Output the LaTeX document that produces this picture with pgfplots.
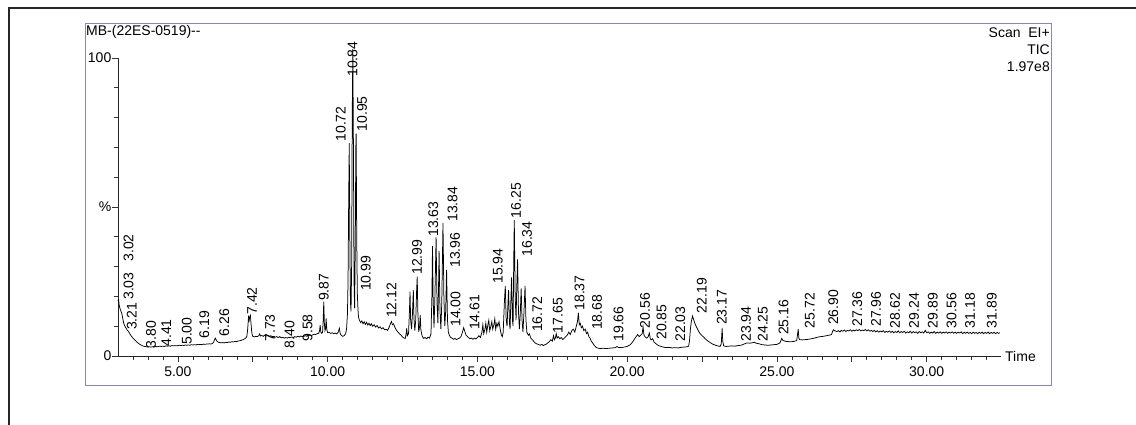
\documentclass[border=0pt]{standalone}
\usepackage{fontspec}
\setmainfont{Liberation Sans}
\usepackage{pgfplots}
\pgfplotsset{compat=1.18}
\definecolor{boxblue}{RGB}{135,135,170}
\begin{document}
\fontsize{14}{17}\selectfont
\begin{tikzpicture}[lbl/.style={rotate=90, anchor=west, inner sep=0pt}]
\useasboundingbox (0pt,0pt) rectangle (1136pt,425pt);
\fill[white] (0pt,0pt) rectangle (1136pt,425pt);
\draw[line width=1.2pt, black!85] (9pt,-5pt) -- (9pt,417pt) -- (1140pt,417pt);
\draw[boxblue, line width=1pt] (85pt,39pt) rectangle (1051pt,401pt);
\node[anchor=west, inner sep=0pt] at (86pt,393pt) {MB-(22ES-0519)-{}-};
\node[anchor=east, inner sep=0pt] at (1050pt,392pt) {Scan\ \ EI+};
\node[anchor=east, inner sep=0pt] at (1050pt,375pt) {TIC};
\node[anchor=east, inner sep=0pt] at (1050pt,358pt) {1.97e8};
\node[anchor=west, inner sep=0pt] at (1005pt,68.5pt) {Time};
\begin{axis}[
  at={(118pt,69pt)}, anchor=south west,
  scale only axis, width=882.7pt, height=298pt,
  xmin=3.0, xmax=32.47, ymin=0, ymax=100,
  axis x line=bottom, axis y line=left,
  axis line style={-, line width=0.8pt, black!85},
  clip=false,
  xtick={5,10,15,20,25,30},
  xticklabels={5.00,10.00,15.00,20.00,25.00,30.00},
  extra x ticks={7.5,12.5,17.5,22.5,27.5},
  extra x tick labels={},
  minor xtick={3.5,4,...,32},
  ytick={0,50,100}, yticklabels={0,\%,100},
  minor ytick={10,20,30,40,60,70,80,90},
  tick align=outside,
  major tick length=6pt, minor tick length=4.5pt,
  every tick/.style={black!80, line width=0.7pt},
  yticklabel style={inner xsep=0.5pt},
]
\addplot[black, line width=0.75pt] table {
3.00 18.5
3.02 19.0
3.04 17.0
3.06 16.2
3.08 15.5
3.10 15.0
3.13 14.2
3.16 12.5
3.19 11.0
3.22 10.2
3.26 9.5
3.30 8.8
3.35 8.2
3.40 7.4
3.45 6.6
3.50 6.0
3.55 5.5
3.60 5.0
3.65 4.5
3.70 4.1
3.75 3.8
3.80 3.5
3.85 3.3
3.90 3.2
3.95 3.1
4.00 3.0
4.05 3.1
4.10 3.0
4.15 3.1
4.20 3.0
4.25 3.2
4.30 3.1
4.35 3.2
4.40 3.3
4.45 3.2
4.50 3.3
4.55 3.2
4.60 3.4
4.65 3.3
4.70 3.4
4.75 3.3
4.80 3.5
4.85 3.4
4.90 3.5
4.95 3.4
5.00 3.5
5.05 3.6
5.10 3.5
5.15 3.6
5.20 3.5
5.25 3.7
5.30 3.6
5.35 3.7
5.40 3.6
5.45 3.8
5.50 3.7
5.55 3.8
5.60 3.7
5.65 3.9
5.70 3.8
5.75 3.9
5.80 3.8
5.85 4.0
5.90 3.9
5.95 4.0
6.00 4.0
6.05 4.1
6.10 4.0
6.15 4.2
6.19 4.6
6.22 5.4
6.25 6.0
6.27 5.6
6.30 5.0
6.35 4.6
6.40 4.5
6.45 4.4
6.50 4.5
6.55 4.4
6.60 4.6
6.65 4.5
6.70 4.7
6.75 4.6
6.80 4.8
6.85 4.7
6.90 4.9
6.95 4.8
7.00 5.0
7.05 5.1
7.10 5.2
7.15 5.4
7.20 5.6
7.25 5.9
7.30 6.5
7.33 9.0
7.36 13.5
7.38 12.0
7.40 13.0
7.42 13.6
7.44 11.0
7.46 8.5
7.48 7.2
7.50 6.6
7.55 6.4
7.60 6.6
7.65 6.5
7.70 6.8
7.73 7.4
7.76 6.7
7.80 6.9
7.85 6.6
7.90 7.0
7.95 6.7
8.00 6.9
8.05 6.6
8.10 6.8
8.15 6.5
8.20 6.6
8.25 6.3
8.30 6.5
8.35 6.2
8.40 6.5
8.45 6.1
8.50 6.3
8.55 6.0
8.60 6.2
8.65 6.0
8.70 6.3
8.75 6.1
8.80 6.4
8.85 6.2
8.90 6.5
8.95 6.3
9.00 6.6
9.05 6.4
9.10 6.7
9.15 6.5
9.20 6.6
9.25 6.8
9.30 6.6
9.35 6.9
9.40 7.0
9.45 6.8
9.50 7.1
9.55 7.3
9.60 7.2
9.65 7.5
9.70 7.6
9.73 8.5
9.75 10.4
9.77 8.0
9.80 7.6
9.83 8.0
9.85 12.0
9.87 18.2
9.89 11.0
9.91 8.5
9.93 9.0
9.95 12.6
9.97 9.0
10.00 7.8
10.05 7.9
10.10 7.6
10.15 7.8
10.20 7.5
10.25 7.7
10.30 7.4
10.35 8.0
10.39 9.3
10.42 7.5
10.45 7.0
10.50 6.6
10.55 6.8
10.60 7.5
10.63 9.0
10.66 14.0
10.68 25.0
10.70 50.0
10.72 71.4
10.74 40.0
10.76 18.0
10.78 15.0
10.80 30.0
10.82 80.0
10.84 103.0
10.86 70.0
10.88 25.0
10.90 16.0
10.92 35.0
10.94 70.0
10.95 74.6
10.97 40.0
10.99 21.0
11.01 16.0
11.03 13.0
11.06 12.0
11.10 11.2
11.14 11.8
11.18 10.8
11.22 11.5
11.26 10.6
11.30 11.3
11.34 10.4
11.38 11.0
11.42 10.2
11.46 10.8
11.50 10.0
11.55 10.5
11.60 9.7
11.65 10.2
11.70 9.4
11.75 9.8
11.80 9.1
11.85 9.5
11.90 8.8
11.95 9.0
12.00 8.6
12.05 9.6
12.10 11.0
12.13 11.6
12.16 10.5
12.20 10.8
12.25 9.5
12.30 8.6
12.35 8.0
12.40 7.4
12.45 7.0
12.50 6.4
12.55 6.0
12.59 5.9
12.62 7.5
12.64 9.3
12.66 6.8
12.70 7.5
12.73 15.0
12.75 21.6
12.77 12.0
12.80 9.0
12.83 14.0
12.86 22.1
12.88 13.0
12.91 8.5
12.94 12.0
12.97 22.0
12.99 26.6
13.01 15.0
13.04 8.0
13.07 10.0
13.09 13.8
13.11 9.0
13.15 6.8
13.20 5.9
13.25 6.2
13.30 5.8
13.35 6.3
13.40 6.0
13.45 7.5
13.48 20.0
13.50 36.9
13.52 20.0
13.55 9.5
13.58 20.0
13.62 39.8
13.65 18.0
13.68 11.0
13.70 22.0
13.72 35.3
13.75 15.0
13.78 9.0
13.81 18.0
13.85 44.7
13.88 20.0
13.91 10.0
13.94 15.0
13.97 28.9
14.00 12.0
14.03 8.0
14.06 7.0
14.10 6.3
14.15 6.0
14.20 5.6
14.25 5.9
14.30 5.5
14.35 5.8
14.40 6.0
14.45 6.5
14.50 8.0
14.54 9.5
14.58 8.2
14.62 7.0
14.66 6.6
14.70 6.2
14.75 5.8
14.80 6.0
14.85 5.6
14.90 6.0
14.95 5.7
15.00 6.2
15.05 6.8
15.10 6.2
15.15 8.0
15.18 10.5
15.21 7.5
15.25 9.0
15.28 11.0
15.31 8.0
15.35 10.5
15.38 12.0
15.41 8.5
15.45 10.0
15.48 11.5
15.51 9.0
15.55 10.5
15.58 12.5
15.61 9.0
15.65 11.0
15.68 10.0
15.72 11.5
15.76 9.0
15.80 7.0
15.83 6.5
15.86 8.0
15.90 18.0
15.93 23.5
15.96 12.0
15.99 10.0
16.02 18.0
16.04 22.1
16.07 11.0
16.09 9.0
16.12 20.0
16.14 26.4
16.17 12.0
16.19 10.0
16.21 30.0
16.23 45.6
16.26 20.0
16.29 12.0
16.31 22.0
16.34 32.4
16.37 15.0
16.40 9.0
16.43 14.0
16.46 22.7
16.49 12.0
16.52 8.0
16.55 14.0
16.59 23.5
16.62 12.0
16.65 8.0
16.70 7.0
16.74 7.4
16.78 6.0
16.82 5.6
16.86 5.2
16.90 4.6
16.95 4.2
17.00 4.0
17.05 3.8
17.10 3.6
17.15 3.9
17.20 3.5
17.25 3.8
17.30 4.0
17.35 4.4
17.40 4.8
17.45 5.5
17.50 5.0
17.54 6.8
17.57 5.5
17.60 6.0
17.63 7.5
17.66 6.0
17.70 6.5
17.75 5.8
17.80 6.2
17.85 5.5
17.90 6.0
17.95 6.5
18.00 7.0
18.05 8.0
18.10 7.2
18.15 8.5
18.20 9.0
18.25 8.0
18.30 10.0
18.34 11.5
18.37 14.5
18.40 10.5
18.43 11.0
18.47 9.5
18.51 10.0
18.55 8.5
18.60 9.0
18.64 7.5
18.68 8.0
18.72 6.5
18.76 6.0
18.80 5.0
18.85 4.3
18.90 3.6
18.95 3.0
19.00 2.7
19.05 2.6
19.10 2.5
19.20 2.6
19.30 2.5
19.40 2.6
19.50 2.7
19.60 2.8
19.66 3.2
19.70 2.9
19.80 2.8
19.90 3.0
20.00 3.2
20.05 3.5
20.10 3.8
20.15 4.3
20.20 5.0
20.25 5.8
20.30 6.5
20.35 7.2
20.40 6.5
20.45 7.0
20.50 7.5
20.53 9.8
20.56 7.0
20.60 6.4
20.65 6.0
20.70 6.5
20.74 7.7
20.77 5.8
20.80 5.4
20.85 5.8
20.90 4.6
20.95 4.2
21.00 3.8
21.05 3.5
21.10 3.3
21.20 3.0
21.30 2.8
21.40 2.9
21.50 2.7
21.60 2.8
21.70 2.7
21.80 2.9
21.90 3.0
22.00 3.1
22.05 3.3
22.08 5.0
22.11 9.0
22.14 11.5
22.18 13.4
22.21 12.5
22.25 11.2
22.30 10.0
22.35 9.0
22.40 8.0
22.45 7.3
22.50 6.8
22.55 6.4
22.60 5.8
22.65 5.4
22.70 5.0
22.77 4.5
22.85 4.0
22.95 3.6
23.05 3.3
23.10 3.2
23.14 4.0
23.17 9.3
23.19 5.0
23.22 3.4
23.30 3.2
23.40 3.3
23.50 3.4
23.60 3.3
23.70 3.5
23.80 3.6
23.90 4.0
23.95 4.2
24.00 4.4
24.10 4.3
24.20 4.5
24.25 4.6
24.30 4.3
24.40 4.1
24.50 3.8
24.60 3.7
24.70 3.6
24.80 3.7
24.90 3.8
25.00 3.9
25.10 4.4
25.16 5.9
25.20 5.2
25.30 4.9
25.40 4.8
25.50 4.8
25.60 5.0
25.66 5.2
25.69 7.5
25.71 9.0
25.73 6.0
25.76 5.5
25.85 5.4
25.95 5.5
26.05 5.6
26.15 5.8
26.25 6.0
26.35 6.3
26.45 6.5
26.55 6.6
26.65 6.8
26.75 7.0
26.82 7.2
26.88 8.8
26.92 8.5
27.00 8.2
27.05 8.5
27.10 8.1
27.15 8.6
27.20 8.3
27.25 8.7
27.30 8.2
27.35 8.6
27.40 8.4
27.45 8.8
27.50 8.3
27.55 8.7
27.60 8.4
27.65 8.8
27.70 8.5
27.75 8.9
27.80 8.4
27.85 8.7
27.90 8.5
27.95 8.9
28.00 8.4
28.05 8.8
28.10 8.3
28.15 8.6
28.20 8.2
28.25 8.6
28.30 8.1
28.35 8.5
28.40 8.0
28.45 8.4
28.50 8.1
28.55 8.5
28.60 7.9
28.65 8.3
28.70 8.0
28.75 8.4
28.80 7.9
28.85 8.3
28.90 7.8
28.95 8.2
29.00 7.9
29.05 8.4
29.10 7.8
29.15 8.2
29.20 7.9
29.25 8.3
29.30 7.7
29.35 8.1
29.40 7.8
29.45 8.3
29.50 7.7
29.55 8.2
29.60 7.8
29.65 8.1
29.70 7.6
29.75 8.2
29.80 7.8
29.85 8.1
29.90 7.7
29.95 8.6
30.00 7.8
30.05 8.1
30.10 7.6
30.15 8.0
30.20 7.7
30.25 8.2
30.30 7.6
30.35 8.0
30.40 7.7
30.45 8.1
30.50 7.6
30.55 8.0
30.60 7.7
30.65 8.1
30.70 7.6
30.75 8.0
30.80 7.7
30.85 8.1
30.90 7.6
30.95 8.0
31.00 7.6
31.05 8.0
31.10 7.7
31.15 8.1
31.20 7.5
31.25 8.0
31.30 7.6
31.35 8.0
31.40 7.6
31.45 7.9
31.50 7.5
31.55 8.0
31.60 7.6
31.65 7.9
31.70 7.5
31.75 8.0
31.80 7.6
31.85 8.0
31.90 7.5
31.95 7.9
32.00 7.6
32.05 8.0
32.10 7.5
32.15 7.9
32.20 7.6
32.25 8.0
32.30 7.5
32.35 7.9
32.40 7.6
32.44 7.8
};
\node[lbl] at (axis cs:3.35,31.6) {3.02};
\node[lbl] at (axis cs:3.35,18.8) {3.03};
\node[lbl] at (axis cs:3.46,8.7) {3.21};
\node[lbl] at (axis cs:4.10,2.6) {3.80};
\node[lbl] at (axis cs:4.61,3.1) {4.41};
\node[lbl] at (axis cs:5.30,3.7) {5.00};
\node[lbl] at (axis cs:5.88,5.9) {6.19};
\node[lbl] at (axis cs:6.55,6.5) {6.26};
\node[lbl] at (axis cs:7.47,13.8) {7.42};
\node[lbl] at (axis cs:8.08,4.8) {7.73};
\node[lbl] at (axis cs:8.73,2.6) {8.40};
\node[lbl] at (axis cs:9.33,4.8) {9.58};
\node[lbl] at (axis cs:9.87,18.4) {9.87};
\node[lbl] at (axis cs:10.44,71.9) {10.72};
\node[lbl] at (axis cs:10.83,93.7) {10.84};
\node[lbl] at (axis cs:11.15,75.3) {10.95};
\node[lbl] at (axis cs:11.27,21.8) {10.99};
\node[lbl] at (axis cs:12.13,12.7) {12.12};
\node[lbl] at (axis cs:12.98,27.2) {12.99};
\node[lbl] at (axis cs:13.53,40.0) {13.63};
\node[lbl] at (axis cs:14.17,45.0) {13.84};
\node[lbl] at (axis cs:14.25,29.6) {13.96};
\node[lbl] at (axis cs:14.27,9.8) {14.00};
\node[lbl] at (axis cs:14.90,8.7) {14.61};
\node[lbl] at (axis cs:15.68,24.2) {15.94};
\node[lbl] at (axis cs:16.29,46.2) {16.25};
\node[lbl] at (axis cs:16.66,33.3) {16.34};
\node[lbl] at (axis cs:17.00,8.0) {16.72};
\node[lbl] at (axis cs:17.68,7.6) {17.65};
\node[lbl] at (axis cs:18.41,15.2) {18.37};
\node[lbl] at (axis cs:18.99,8.7) {18.68};
\node[lbl] at (axis cs:19.71,4.8) {19.66};
\node[lbl] at (axis cs:20.60,9.3) {20.56};
\node[lbl] at (axis cs:21.15,5.4) {20.85};
\node[lbl] at (axis cs:21.77,4.8) {22.03};
\node[lbl] at (axis cs:22.49,14.3) {22.19};
\node[lbl] at (axis cs:23.16,10.4) {23.17};
\node[lbl] at (axis cs:23.97,4.8) {23.94};
\node[lbl] at (axis cs:24.53,4.8) {24.25};
\node[lbl] at (axis cs:25.22,7.0) {25.16};
\node[lbl] at (axis cs:26.10,9.3) {25.72};
\node[lbl] at (axis cs:26.88,10.4) {26.90};
\node[lbl] at (axis cs:27.68,9.8) {27.36};
\node[lbl] at (axis cs:28.31,9.8) {27.96};
\node[lbl] at (axis cs:28.94,9.3) {28.62};
\node[lbl] at (axis cs:29.58,9.3) {29.24};
\node[lbl] at (axis cs:30.20,9.3) {29.89};
\node[lbl] at (axis cs:30.83,9.3) {30.56};
\node[lbl] at (axis cs:31.45,9.3) {31.18};
\node[lbl] at (axis cs:32.17,9.3) {31.89};
\end{axis}
\end{tikzpicture}
\end{document}
